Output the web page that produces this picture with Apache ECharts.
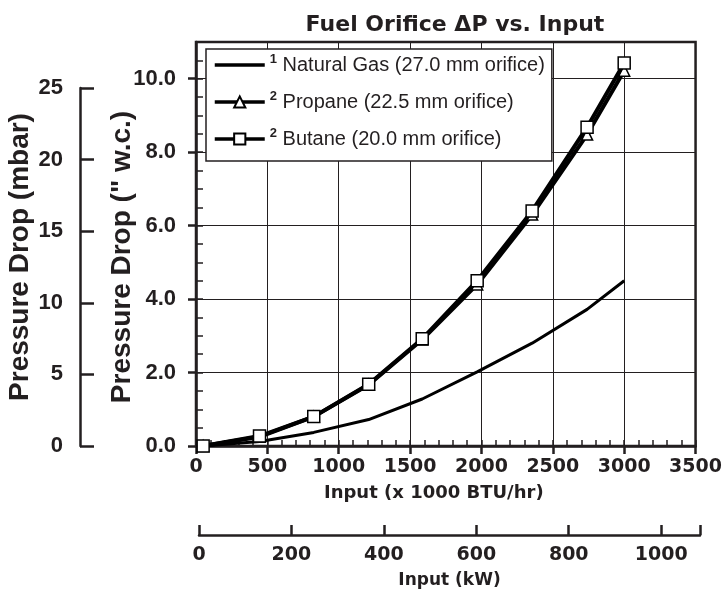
<!DOCTYPE html>
<html>
<head>
<meta charset="utf-8">
<title>Fuel Orifice dP</title>
<style>
  body { margin: 0; background: #fff; }
</style>
</head>
<body>
<div id="main" style="width: 725px;height:592px;"></div>
<script src="https://cdn.jsdelivr.net/npm/echarts@6/dist/echarts.min.js"></script>
<script>
var chart = echarts.init(document.getElementById('main'));

// input in 1000 BTU/hr, pressure drop in inches w.c.
var inputBtu = [50, 445, 825, 1210, 1585, 1970, 2355, 2740, 3000];
var naturalGas = [0.0, 0.12, 0.37, 0.72, 1.28, 2.02, 2.80, 3.72, 4.50];
var propane = [0.0, 0.25, 0.80, 1.67, 2.90, 4.40, 6.30, 8.48, 10.22];
var butane = [0.0, 0.27, 0.80, 1.68, 2.92, 4.50, 6.40, 8.68, 10.43];

var wcTicks = [0, 2, 4, 6, 8, 10];

var legendNames = ['Natural Gas (27.0 mm orifice)', 'Propane (22.5 mm orifice)', 'Butane (20.0 mm orifice)'];
var legendNotes = ['1', '2', '2'];

function pairs(ys) {
    return inputBtu.map(function (x, i) { return [x, ys[i]]; });
}

var boldFont = 'DejaVu Sans';
var armFont = 'Liberation Sans';
var ink = '#231f20';

option = {
    backgroundColor: '#fff',
    animation: false,
    title: {
        text: 'Fuel Orifice \u0394P vs. Input',
        left: 450,
        textAlign: 'center',
        top: 9,
        textStyle: { fontFamily: boldFont, fontWeight: 'bold', fontSize: 22, color: ink }
    },
    legend: {
        orient: 'vertical',
        left: 206,
        top: 49,
        padding: [4, 7, 10, 7],
        itemGap: 13,
        itemWidth: 50,
        itemHeight: 14,
        backgroundColor: '#fff',
        borderColor: ink,
        borderWidth: 1.5,
        lineStyle: { width: 3.5, color: '#000' },
        data: [
            { name: legendNames[0], icon: 'path://M0,0H50V3.5H0Z' },
            { name: legendNames[1] },
            { name: legendNames[2] }
        ],
        formatter: function (name) {
            var i = legendNames.indexOf(name);
            return '{s|' + legendNotes[i] + '} ' + name;
        },
        textStyle: {
            fontFamily: armFont,
            fontSize: 20,
            color: ink,
            lineHeight: 24,
            rich: {
                s: { fontFamily: armFont, fontWeight: 'bold', fontSize: 13, verticalAlign: 'top', padding: [0, 0, 8, 0], color: ink }
            }
        }
    },
    grid: [
        { left: 196, right: 25, top: 42, bottom: 146, show: true, borderColor: ink, borderWidth: 2.5, z: 3 },
        { left: 80, width: 1, top: 88, bottom: 146 },
        { left: 199, right: 25, top: 500, bottom: 57 }
    ],
    xAxis: [{
        type: 'value', gridIndex: 0, position: 'bottom',
        min: 0, max: 3500, interval: 500,
        name: 'Input (x 1000 BTU/hr)', nameLocation: 'middle', nameGap: 38, nameMoveOverlap: false,
        nameTextStyle: { fontFamily: boldFont, fontWeight: 'bold', fontSize: 18, color: ink, padding: [0, 24, 0, 0] },
        axisLine: { lineStyle: { color: ink, width: 2.5 } },
        axisTick: { inside: false, length: 8, lineStyle: { color: ink, width: 2.5 } },
        axisLabel: {
            margin: 12, fontFamily: boldFont, fontWeight: 'bold', fontSize: 19, color: ink,
            formatter: function (v) { return String(v); }
        },
        splitLine: { show: true, lineStyle: { color: ink, width: 1 } }
    }, {
        type: 'value', gridIndex: 0, position: 'bottom',
        min: 0, max: 3500, interval: 100,
        axisLine: { show: false },
        axisTick: { inside: true, length: 6, lineStyle: { color: ink, width: 1.5 } },
        axisLabel: { show: false },
        splitLine: { show: false }
    }, {
        type: 'value', gridIndex: 1, show: false, min: 0, max: 1
    }, {
        type: 'value', gridIndex: 2, position: 'bottom',
        min: 0, max: 1084, interval: 200,
        name: 'Input (kW)', nameLocation: 'middle', nameGap: 37, nameMoveOverlap: false,
        nameTextStyle: { fontFamily: boldFont, fontWeight: 'bold', fontSize: 17, color: ink },
        axisLine: { lineStyle: { color: ink, width: 2.5 } },
        axisTick: { inside: true, length: 10, lineStyle: { color: ink, width: 2.5 } },
        axisLabel: {
            margin: 11, fontFamily: boldFont, fontWeight: 'bold', fontSize: 19, color: ink,
            formatter: function (v) { return v % 200 === 0 ? String(v) : ''; }
        },
        splitLine: { show: false }
    }],
    yAxis: [{
        type: 'value', gridIndex: 0, position: 'left',
        min: 0, max: 11, interval: 2,
        name: 'Pressure Drop (" w.c.)', nameLocation: 'middle', nameGap: 60, nameMoveOverlap: false,
        nameTextStyle: { fontFamily: armFont, fontWeight: 'bold', fontSize: 28, color: ink, padding: [0, 26, 0, 0] },
        axisLine: { lineStyle: { color: ink, width: 2.5 } },
        axisTick: { inside: false, length: 8, customValues: wcTicks, lineStyle: { color: ink, width: 2.5 } },
        axisLabel: {
            margin: 20, fontFamily: armFont, fontWeight: 'bold', fontSize: 22, color: ink,
            customValues: wcTicks,
            formatter: function (v) { return v.toFixed(1); }
        },
        splitLine: { show: true, lineStyle: { color: ink, width: 1 } }
    }, {
        type: 'value', gridIndex: 0, position: 'left',
        min: 0, max: 11, interval: 0.5,
        axisLine: { show: false },
        axisTick: { inside: true, length: 7, lineStyle: { color: ink, width: 1.5 } },
        axisLabel: { show: false },
        splitLine: { show: false }
    }, {
        type: 'value', gridIndex: 1, position: 'left',
        min: 0, max: 25, interval: 5,
        name: 'Pressure Drop (mbar)', nameLocation: 'middle', nameGap: 46, nameMoveOverlap: false,
        nameTextStyle: { fontFamily: armFont, fontWeight: 'bold', fontSize: 28, color: ink, padding: [0, 0, 0, 20] },
        axisLine: { lineStyle: { color: ink, width: 2.5 } },
        axisTick: { inside: true, length: 14, lineStyle: { color: ink, width: 2.5 } },
        axisLabel: { margin: 17, fontFamily: armFont, fontWeight: 'bold', fontSize: 22, color: ink },
        splitLine: { show: false }
    }, {
        type: 'value', gridIndex: 2, show: false, min: 0, max: 1
    }],
    series: [{
        name: legendNames[0],
        type: 'line',
        xAxisIndex: 0, yAxisIndex: 0,
        symbol: 'none',
        lineStyle: { color: '#000', width: 3 },
        itemStyle: { color: '#000' },
        data: pairs(naturalGas),
        z: 5
    }, {
        name: legendNames[1],
        type: 'line',
        xAxisIndex: 0, yAxisIndex: 0,
        symbol: 'triangle',
        symbolSize: 11,
        lineStyle: { color: '#000', width: 4 },
        itemStyle: { color: '#fff', borderColor: '#000', borderWidth: 1.5 },
        data: pairs(propane),
        z: 6
    }, {
        name: legendNames[2],
        type: 'line',
        xAxisIndex: 0, yAxisIndex: 0,
        symbol: 'rect',
        symbolSize: 12,
        lineStyle: { color: '#000', width: 4 },
        itemStyle: { color: '#fff', borderColor: '#000', borderWidth: 1.5 },
        data: pairs(butane),
        z: 7
    }]
};

chart.setOption(option);
</script>
</body>
</html>
